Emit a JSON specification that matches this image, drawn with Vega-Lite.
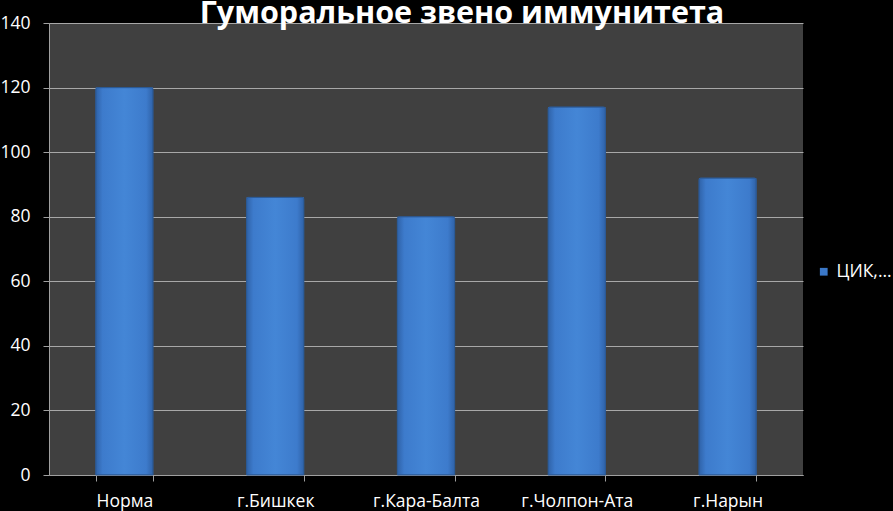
{
  "$schema": "https://vega.github.io/schema/vega-lite/v6.json",
  "width": 754,
  "height": 452,
  "autosize": "none",
  "padding": {"left": 49, "top": 23, "right": 90, "bottom": 36},
  "background": "black",
  "config": {
    "view": {"fill": "#404040", "stroke": null},
    "font": "Open Sans"
  },
  "title": {
    "text": "Гуморальное звено иммунитета",
    "fontSize": 30.5,
    "fontWeight": "bold",
    "color": "white",
    "font": "Open Sans",
    "anchor": "middle",
    "frame": "group",
    "baseline": "alphabetic",
    "offset": 0,
    "dy": 39,
    "dx": 36
  },
  "data": {
    "values": [
      {"city": "Норма", "value": 120, "series": "ЦИК,..."},
      {"city": "г.Бишкек", "value": 86, "series": "ЦИК,..."},
      {"city": "г.Кара-Балта", "value": 80, "series": "ЦИК,..."},
      {"city": "г.Чолпон-Ата", "value": 114, "series": "ЦИК,..."},
      {"city": "г.Нарын", "value": 92, "series": "ЦИК,..."}
    ]
  },
  "encoding": {
    "x": {
      "field": "city",
      "type": "nominal",
      "sort": null,
      "scale": {"paddingInner": 0.62, "paddingOuter": 0.31},
      "axis": {
        "title": null,
        "labelAngle": 0,
        "labelColor": "white",
        "labelFontSize": 17.5,
        "labelPadding": 11,
        "tickBand": "extent",
        "tickColor": "#a0a0a0",
        "tickSize": 6,
        "domainColor": "#a0a0a0",
        "grid": false
      }
    },
    "y": {
      "field": "value",
      "type": "quantitative",
      "scale": {"domain": [0, 140], "nice": false},
      "axis": {
        "title": null,
        "values": [0, 20, 40, 60, 80, 100, 120, 140],
        "labelColor": "white",
        "labelFontSize": 17.5,
        "labelPadding": 13,
        "tickColor": "#a0a0a0",
        "tickSize": 6,
        "domainColor": "#a0a0a0",
        "gridColor": "#a8a8a8",
        "gridWidth": 1
      }
    }
  },
  "layer": [
    {
      "mark": {"type": "bar"},
      "encoding": {
        "color": {
          "field": "series",
          "type": "nominal",
          "scale": {"range": ["#3b78c8"]},
          "legend": {
            "title": null,
            "orient": "none",
            "legendX": 766,
            "legendY": 240,
            "labelColor": "white",
            "labelFontSize": 17.5,
            "symbolType": "square",
            "symbolSize": 60,
            "symbolStrokeWidth": 0
          }
        }
      }
    },
    {
      "mark": {
        "type": "bar",
        "stroke": "#2c5a96",
        "strokeWidth": 1,
        "cornerRadiusTopLeft": 2,
        "cornerRadiusTopRight": 2,
        "fill": {
          "gradient": "linear",
          "x1": 0, "y1": 0, "x2": 1, "y2": 0,
          "stops": [
            {"offset": 0, "color": "#2f62a8"},
            {"offset": 0.12, "color": "#3d7bcc"},
            {"offset": 0.5, "color": "#4486d6"},
            {"offset": 0.88, "color": "#3d7bcc"},
            {"offset": 1, "color": "#2f62a8"}
          ]
        }
      }
    }
  ]
}
